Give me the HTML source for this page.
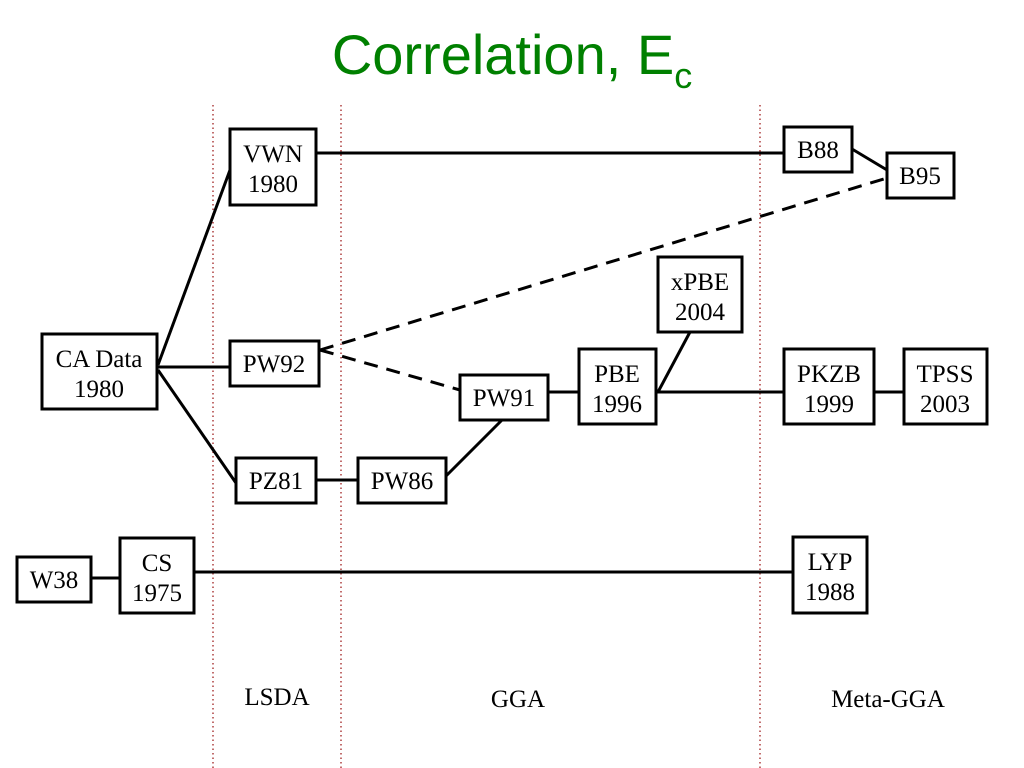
<!DOCTYPE html>
<html><head><meta charset="utf-8"><style>
html,body{margin:0;padding:0;background:#fff}
body{width:1024px;height:768px;position:relative;overflow:hidden}
svg{position:absolute;left:0;top:0}
</style></head><body>
<svg width="1024" height="768" viewBox="0 0 1024 768" xmlns="http://www.w3.org/2000/svg">
<text x="512" y="74" text-anchor="middle" font-family="Liberation Sans, sans-serif" font-size="56" fill="#008000">Correlation, E<tspan font-size="36" dy="14">c</tspan></text>
<g stroke="#a02020" stroke-width="1.3" stroke-dasharray="1.5,3">
<line x1="213" y1="105" x2="213" y2="768"/>
<line x1="341" y1="105" x2="341" y2="768"/>
<line x1="760" y1="105" x2="760" y2="768"/>
</g>
<g stroke="#000" stroke-width="3" fill="none">
<line x1="316" y1="153" x2="784" y2="153"/>
<line x1="158" y1="365" x2="230" y2="170"/>
<line x1="158" y1="367" x2="230" y2="367"/>
<line x1="158" y1="370" x2="236" y2="483"/>
<line x1="316" y1="480" x2="358" y2="480"/>
<line x1="446" y1="476" x2="502" y2="420"/>
<line x1="852" y1="149" x2="887" y2="170"/>
<line x1="548" y1="392" x2="579" y2="392"/>
<line x1="656" y1="392" x2="784" y2="392"/>
<line x1="690" y1="332" x2="658" y2="392"/>
<line x1="874" y1="392" x2="904" y2="392"/>
<line x1="91" y1="578" x2="120" y2="578"/>
<line x1="194" y1="572" x2="793" y2="572"/>
<line x1="320" y1="350" x2="460" y2="390" stroke-dasharray="14,9"/>
<line x1="320" y1="350" x2="887" y2="178" stroke-dasharray="14,9"/>
</g>
<g stroke="#000" stroke-width="3" fill="#fff">
<rect x="230" y="129" width="86" height="76"/>
<rect x="42" y="334" width="115" height="75"/>
<rect x="230" y="341" width="89" height="45"/>
<rect x="236" y="458" width="80" height="45"/>
<rect x="358" y="458" width="88" height="45"/>
<rect x="460" y="375" width="88" height="45"/>
<rect x="579" y="349" width="77" height="75"/>
<rect x="658" y="257" width="84" height="75"/>
<rect x="784" y="349" width="90" height="75"/>
<rect x="904" y="349" width="83" height="75"/>
<rect x="784" y="127" width="68" height="45"/>
<rect x="887" y="153" width="67" height="45"/>
<rect x="17" y="557" width="74" height="45"/>
<rect x="120" y="538" width="74" height="75"/>
<rect x="793" y="537" width="74" height="76"/>
</g>
<g font-family="Liberation Serif, serif" font-size="25" fill="#000" text-anchor="middle">
<text x="273" y="162">VWN</text><text x="273" y="192">1980</text>
<text x="99" y="367">CA Data</text><text x="99" y="397">1980</text>
<text x="274" y="372">PW92</text>
<text x="276" y="489">PZ81</text>
<text x="402" y="489">PW86</text>
<text x="504" y="406">PW91</text>
<text x="617" y="382">PBE</text><text x="617" y="412">1996</text>
<text x="700" y="290">xPBE</text><text x="700" y="320">2004</text>
<text x="829" y="382">PKZB</text><text x="829" y="412">1999</text>
<text x="945" y="382">TPSS</text><text x="945" y="412">2003</text>
<text x="818" y="158">B88</text>
<text x="920" y="184">B95</text>
<text x="54" y="588">W38</text>
<text x="157" y="571">CS</text><text x="157" y="601">1975</text>
<text x="830" y="570">LYP</text><text x="830" y="600">1988</text>
<text x="277" y="705">LSDA</text>
<text x="518" y="707">GGA</text>
<text x="888" y="707">Meta-GGA</text>
</g>
</svg>
</body></html>
